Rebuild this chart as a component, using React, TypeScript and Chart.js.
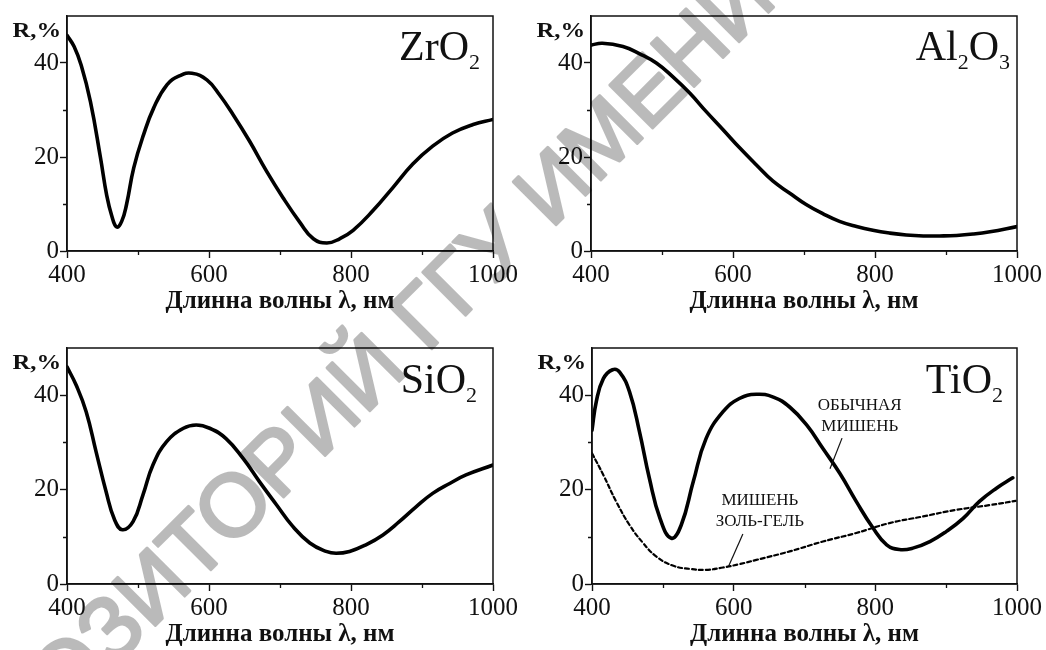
import React, { useEffect, useRef } from "react";
import { Chart, registerables } from "chart.js";

Chart.register(...registerables);

// ---------- data ----------
const X_TICKS = [400, 600, 800, 1000];
const X_MINOR = [500, 700, 900];
const Y_TICKS = [0, 20, 40];
const Y_MINOR = [10, 30];
const X_MIN = 400;
const X_MAX = 1000;
const Y_MIN = 0;
const Y_MAX = 50;
const AXIS_TITLE = "Длинна волны λ, нм";
const Y_LABEL = "R,%";

const zrX = [400, 410, 420, 433, 447, 456, 463, 470, 477, 484, 494, 508, 522, 541, 559, 576, 597, 615, 634, 657, 681, 704, 728, 747, 766, 784, 803, 831, 859, 887, 915, 943, 972, 1000];
const zrY = [45.9, 43.5, 39.5, 31.8, 20, 11.8, 7.5, 5.1, 6.3, 10, 17.7, 24.8, 30.4, 35.4, 37.3, 37.8, 36.4, 33.2, 29, 23.4, 17, 11.4, 6.1, 2.6, 1.7, 2.6, 4.4, 8.6, 13.5, 18.5, 22.3, 25.1, 26.9, 28];

const alX = [400, 416, 445, 468, 492, 515, 539, 562, 586, 609, 633, 656, 680, 703, 727, 750, 774, 797, 821, 844, 868, 891, 915, 938, 962, 1000];
const alY = [43.8, 44.2, 43.5, 42, 40, 37.1, 33.6, 29.7, 25.8, 22, 18.3, 14.9, 12.3, 9.9, 7.9, 6.3, 5.2, 4.4, 3.8, 3.4, 3.2, 3.2, 3.3, 3.6, 4.1, 5.2];

const siX = [400, 413, 427, 441, 455, 467, 478, 493, 507, 521, 540, 564, 582, 601, 624, 648, 671, 695, 718, 742, 765, 779, 798, 821, 845, 868, 892, 915, 939, 962, 1000];
const siY = [46, 42.1, 36.5, 28, 19.6, 13.6, 11.5, 13.2, 18.9, 25.2, 30.1, 33, 33.7, 33, 30.8, 26.6, 21.7, 16.8, 12.2, 8.7, 6.9, 6.5, 6.9, 8.3, 10.4, 13.2, 16.4, 19.2, 21.3, 23.1, 25.2];

const tiX = [400, 406, 416, 429, 439, 453, 467, 481, 496, 512, 526, 543, 561, 585, 608, 632, 656, 679, 703, 726, 750, 773, 797, 816, 834, 853, 877, 900, 924, 947, 971, 994];
const tiY = [32.6, 38.6, 43.5, 45.4, 44.9, 40.7, 32.3, 22.4, 13.9, 9.7, 12.5, 21.7, 30.8, 36.5, 39.3, 40.2, 39.6, 37.5, 33.7, 28.7, 23.4, 17.5, 11.8, 8.3, 7.3, 7.6, 9, 11.1, 13.9, 17.5, 20.3, 22.5];

const tiSolX = [400, 416, 434, 453, 472, 491, 514, 538, 561, 585, 608, 632, 679, 726, 773, 820, 867, 914, 961, 998];
const tiSolY = [27.7, 23.1, 17.5, 12.5, 8.7, 5.8, 3.9, 3.2, 3.0, 3.5, 4.2, 5.1, 6.9, 9, 10.8, 12.9, 14.3, 15.7, 16.7, 17.6];

const noteUsualText = ["ОБЫЧНАЯ", "МИШЕНЬ"];
const noteSolGelText = ["МИШЕНЬ", "ЗОЛЬ-ГЕЛЬ"];

const WATERMARK = "РЕПОЗИТОРИЙ ГГУ ИМЕНИ Ф. СКОРИНЫ";

// ---------- styles / layout ----------
const SERIF = "'Liberation Serif', 'Times New Roman', serif";
const SANS = "'Liberation Sans', Arial, sans-serif";
const INK = "#111";

type Seg = [string, number];
type Note = { lines: string[]; x: number; ys: number[]; leader: [number, number][] };

type PanelCfg = {
  left: number;
  top: number;
  w: number;
  h: number;
  padTop: number;
  padRight: number;
  yW: number;
  xH: number;
  titlePad: number;
  formula: Seg[];
  fInset: number;
  fBase: number;
  series: { xs: number[]; ys: number[]; dashed: boolean }[];
  notes: Note[];
};

const PANELS: PanelCfg[] = [
  {
    left: 0, top: 0, w: 523, h: 325, padTop: 15, padRight: 30, yW: 67, xH: 74, titlePad: 8,
    formula: [["ZrO", 0], ["2", 1]], fInset: 13, fBase: 44,
    series: [{ xs: zrX, ys: zrY, dashed: false }], notes: [],
  },
  {
    left: 523, top: 0, w: 523, h: 325, padTop: 15, padRight: 29, yW: 68, xH: 74, titlePad: 8,
    formula: [["Al", 0], ["2", 1], ["O", 0], ["3", 1]], fInset: 7, fBase: 44,
    series: [{ xs: alX, ys: alY, dashed: false }], notes: [],
  },
  {
    left: 0, top: 325, w: 523, h: 325, padTop: 23, padRight: 30, yW: 67, xH: 66, titlePad: 0,
    formula: [["SiO", 0], ["2", 1]], fInset: 16, fBase: 45,
    series: [{ xs: siX, ys: siY, dashed: false }], notes: [],
  },
  {
    left: 523, top: 325, w: 523, h: 325, padTop: 23, padRight: 29, yW: 69, xH: 66, titlePad: 0,
    formula: [["TiO", 0], ["2", 1]], fInset: 14, fBase: 45,
    series: [
      { xs: tiX, ys: tiY, dashed: false },
      { xs: tiSolX, ys: tiSolY, dashed: true },
    ],
    notes: [
      { lines: noteUsualText, x: 778, ys: [37.8, 33.3], leader: [[753, 30.9], [736, 24.4]] },
      { lines: noteSolGelText, x: 637, ys: [17.6, 13.2], leader: [[613, 10.6], [593, 3.8]] },
    ],
  },
];

function Panel({ cfg }: { cfg: PanelCfg }) {
  const ref = useRef<HTMLCanvasElement | null>(null);

  useEffect(() => {
    const canvas = ref.current;
    if (!canvas) return;

    const decor = {
      id: "decor",
      afterDraw(chart: any) {
        const ctx = chart.ctx as CanvasRenderingContext2D;
        const a = chart.chartArea;
        const xs = chart.scales.x;
        const ys = chart.scales.y;
        ctx.save();
        // frame
        ctx.strokeStyle = INK;
        ctx.lineWidth = 1.5;
        ctx.strokeRect(a.left, a.top, a.right - a.left, a.bottom - a.top);
        // minor ticks
        ctx.lineWidth = 1.3;
        ctx.beginPath();
        for (const v of X_MINOR) {
          const px = Math.round(xs.getPixelForValue(v)) + 0.5;
          ctx.moveTo(px, a.bottom);
          ctx.lineTo(px, a.bottom + 4);
        }
        for (const v of Y_MINOR) {
          const py = Math.round(ys.getPixelForValue(v)) + 0.5;
          ctx.moveTo(a.left - 4, py);
          ctx.lineTo(a.left, py);
        }
        ctx.stroke();

        // R,% label
        ctx.fillStyle = INK;
        ctx.textBaseline = "alphabetic";
        ctx.textAlign = "left";
        ctx.save();
        ctx.translate(a.left - 54.5, a.top + 21);
        ctx.scale(1.12, 1);
        ctx.font = `bold 22px ${SERIF}`;
        ctx.fillText(Y_LABEL, 0, 0);
        ctx.restore();

        // formula
        const mainFont = `42px ${SERIF}`;
        const subFont = `22px ${SERIF}`;
        let total = 0;
        const widths = cfg.formula.map(([t, sub]) => {
          ctx.font = sub ? subFont : mainFont;
          const w = ctx.measureText(t).width;
          total += w;
          return w;
        });
        let fx = a.right - cfg.fInset - total;
        const base = a.top + cfg.fBase;
        cfg.formula.forEach(([t, sub], i) => {
          ctx.font = sub ? subFont : mainFont;
          ctx.fillText(t, fx, sub ? base + 8.5 : base);
          fx += widths[i];
        });

        // notes
        for (const n of cfg.notes) {
          ctx.font = `17px ${SERIF}`;
          ctx.textAlign = "center";
          ctx.textBaseline = "middle";
          n.lines.forEach((line, i) => {
            ctx.fillText(line, xs.getPixelForValue(n.x), ys.getPixelForValue(n.ys[i]));
          });
          ctx.lineWidth = 1.2;
          ctx.beginPath();
          ctx.moveTo(xs.getPixelForValue(n.leader[0][0]), ys.getPixelForValue(n.leader[0][1]));
          ctx.lineTo(xs.getPixelForValue(n.leader[1][0]), ys.getPixelForValue(n.leader[1][1]));
          ctx.stroke();
        }
        ctx.restore();
      },
    };

    const chart = new Chart(canvas, {
      type: "line",
      data: {
        datasets: cfg.series.map((s) => ({
          data: s.xs.map((x, i) => ({ x, y: s.ys[i] })),
          borderColor: "#000",
          borderWidth: s.dashed ? 2.2 : 3.6,
          borderDash: s.dashed ? [4, 3] : [],
          borderCapStyle: "round",
          borderJoinStyle: "round",
          pointRadius: 0,
          tension: 0.45,
          fill: false,
        })),
      },
      options: {
        responsive: false,
        maintainAspectRatio: false,
        animation: false,
        devicePixelRatio: 1,
        events: [],
        layout: { padding: { top: cfg.padTop, right: cfg.padRight, left: 0, bottom: 0 } },
        plugins: { legend: { display: false }, tooltip: { enabled: false }, title: { display: false } },
        scales: {
          x: {
            type: "linear",
            min: X_MIN,
            max: X_MAX,
            afterBuildTicks: (scale: any) => {
              scale.ticks = X_TICKS.map((v) => ({ value: v }));
            },
            afterFit: (scale: any) => {
              scale.height = cfg.xH;
            },
            ticks: {
              autoSkip: false,
              maxRotation: 0,
              padding: 2,
              color: INK,
              font: { family: SERIF, size: 25 },
              callback: (v: any) => String(v),
            },
            grid: { drawOnChartArea: false, drawTicks: true, tickLength: 7, tickColor: INK, tickWidth: 1.4 },
            border: { display: true, color: INK, width: 1.5 },
            title: {
              display: true,
              text: AXIS_TITLE,
              color: INK,
              font: { family: SERIF, size: 25, weight: "bold" },
              padding: { top: 0, bottom: cfg.titlePad },
            },
          },
          y: {
            type: "linear",
            min: Y_MIN,
            max: Y_MAX,
            afterBuildTicks: (scale: any) => {
              scale.ticks = Y_TICKS.map((v) => ({ value: v }));
            },
            afterFit: (scale: any) => {
              scale.width = cfg.yW;
            },
            ticks: {
              padding: 1,
              color: INK,
              font: { family: SERIF, size: 25 },
              callback: (v: any) => String(v),
            },
            grid: { drawOnChartArea: false, drawTicks: true, tickLength: 7, tickColor: INK, tickWidth: 1.4 },
            border: { display: true, color: INK, width: 1.5 },
          },
        },
      } as any,
      plugins: [decor],
    });

    return () => chart.destroy();
  }, [cfg]);

  return (
    <canvas
      ref={ref}
      width={cfg.w}
      height={cfg.h}
      style={{ position: "absolute", left: cfg.left, top: cfg.top, width: cfg.w, height: cfg.h }}
    />
  );
}

function Watermark() {
  const ref = useRef<HTMLCanvasElement | null>(null);
  useEffect(() => {
    const c = ref.current;
    if (!c) return;
    const ctx = c.getContext("2d");
    if (!ctx) return;
    ctx.clearRect(0, 0, c.width, c.height);
    const size = 88;
    ctx.font = `${size}px ${SANS}`;
    const prefix = "РЕПОЗИТОРИЙ ГГУ ";
    const w0 = ctx.measureText(prefix).width;
    const wI = ctx.measureText("И").width;
    ctx.save();
    ctx.translate(551, 185);
    ctx.rotate((-45 * Math.PI) / 180);
    ctx.fillStyle = "#000";
    ctx.strokeStyle = "#000";
    ctx.lineWidth = 3;
    ctx.lineJoin = "round";
    ctx.textBaseline = "alphabetic";
    const tx = -(w0 + wI / 2);
    const ty = size * 0.358;
    ctx.fillText(WATERMARK, tx, ty);
    ctx.strokeText(WATERMARK, tx, ty);
    ctx.restore();
  }, []);
  return (
    <canvas
      ref={ref}
      width={1046}
      height={650}
      style={{ position: "absolute", left: 0, top: 0, width: 1046, height: 650, pointerEvents: "none", opacity: 0.27 }}
    />
  );
}

export default function App() {
  return (
    <div style={{ position: "absolute", left: 0, top: 0, width: 1046, height: 650, background: "#fff", overflow: "hidden" }}>
      {PANELS.map((p, i) => (
        <Panel key={i} cfg={p} />
      ))}
      <Watermark />
    </div>
  );
}
